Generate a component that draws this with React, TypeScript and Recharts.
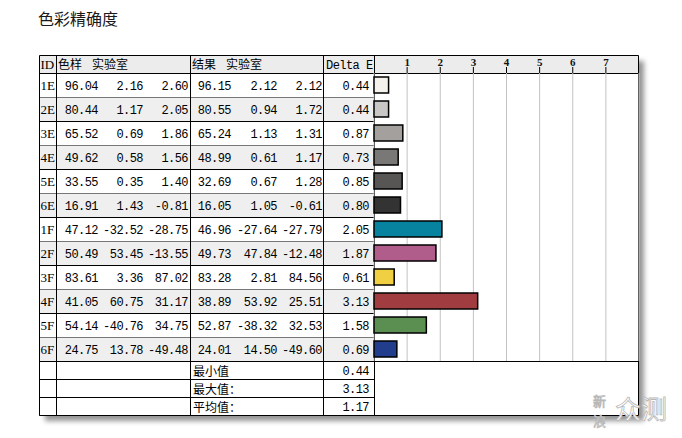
import React from 'react';
import { BarChart, Bar, XAxis, YAxis, CartesianGrid, Cell } from 'recharts';

const title = '色彩精确度';
const headers = ['ID', '色样 实验室', '结果 实验室', 'Delta E'];
const ids = ['1E', '2E', '3E', '4E', '5E', '6E', '1F', '2F', '3F', '4F', '5F', '6F'];
const sampleL = [96.04, 80.44, 65.52, 49.62, 33.55, 16.91, 47.12, 50.49, 83.61, 41.05, 54.14, 24.75];
const sampleA = [2.16, 1.17, 0.69, 0.58, 0.35, 1.43, -32.52, 53.45, 3.36, 60.75, -40.76, 13.78];
const sampleB = [2.6, 2.05, 1.86, 1.56, 1.4, -0.81, -28.75, -13.55, 87.02, 31.17, 34.75, -49.48];
const resultL = [96.15, 80.55, 65.24, 48.99, 32.69, 16.05, 46.96, 49.73, 83.28, 38.89, 52.87, 24.01];
const resultA = [2.12, 0.94, 1.13, 0.61, 0.67, 1.05, -27.64, 47.84, 2.81, 53.92, -38.32, 14.5];
const resultB = [2.12, 1.72, 1.31, 1.17, 1.28, -0.61, -27.79, -12.48, 84.56, 25.51, 32.53, -49.6];
const deltaE = [0.44, 0.44, 0.87, 0.73, 0.85, 0.8, 2.05, 1.87, 0.61, 3.13, 1.58, 0.69];
const swatchColors = ['#f5f1ec', '#c9c7c5', '#a3a09e', '#7a7876', '#575654', '#333333', '#07829f', '#b15d8c', '#f0cf42', '#a13d41', '#5a8f51', '#223d8b'];
const summaryLabels = ['最小值', '最大值：', '平均值：'];
const summaryValues = [0.44, 3.13, 1.17];
const xTicks = [1, 2, 3, 4, 5, 6, 7];
const watermark = ['新', '浪', '众测'];

const data = ids.map((id, i) => ({ id, deltaE: deltaE[i] }));

const MONO = '"Liberation Mono", "Noto Sans CJK SC", monospace';
const CJK = '"Noto Sans CJK SC", sans-serif';

// geometry
const X0 = 39.5, XID = 56.5, XS = 190.5, XR = 323.5, XD = 374.5, XE = 638.5;
const YT = 55.5, YH = 73.5, ROW = 24, SROW = 18;
const YDATA_END = YH + ROW * ids.length;
const YB = YDATA_END + SROW * summaryLabels.length;

const numStyle = { fontFamily: MONO, fontSize: 12, letterSpacing: -0.55, fill: '#000' } as const;

function SplitHeader({ text, x }: { text: string; x: number }) {
  const [a, b] = text.split(' ');
  return (
    <g fontFamily={CJK} fontSize={12} fill="#000">
      <text x={x} y={69}>{a}</text>
      <text x={x + 34} y={69}>{b}</text>
    </g>
  );
}

function TableLayer() {
  const f = (v: number) => v.toFixed(2);
  const rows = ids.map((id, i) => {
    const y0 = YH + i * ROW;
    const by = y0 + 16;
    return (
      <g key={id}>
        {i % 2 === 1 && <rect x={X0} y={y0} width={XD - X0} height={ROW} fill="#efefef" />}
        <text x={40.5} y={by} fontFamily='"Liberation Serif", serif' fontSize={13} fill="#000">{id}</text>
        <text x={98} y={by} textAnchor="end" {...numStyle}>{f(sampleL[i])}</text>
        <text x={143} y={by} textAnchor="end" {...numStyle}>{f(sampleA[i])}</text>
        <text x={188} y={by} textAnchor="end" {...numStyle}>{f(sampleB[i])}</text>
        <text x={231} y={by} textAnchor="end" {...numStyle}>{f(resultL[i])}</text>
        <text x={277} y={by} textAnchor="end" {...numStyle}>{f(resultA[i])}</text>
        <text x={322} y={by} textAnchor="end" {...numStyle}>{f(resultB[i])}</text>
        <text x={369} y={by} textAnchor="end" {...numStyle}>{f(deltaE[i])}</text>
        <line x1={X0} x2={XD} y1={y0 + ROW} y2={y0 + ROW} stroke="#000" />
      </g>
    );
  });
  const summary = summaryLabels.map((lab, j) => {
    const y0 = YDATA_END + j * SROW;
    return (
      <g key={lab}>
        <text x={193} y={y0 + 14} fontFamily={CJK} fontSize={12} fill="#000">{lab}</text>
        <text x={369} y={y0 + 13.5} textAnchor="end" {...numStyle}>{f(summaryValues[j])}</text>
        <line x1={X0} x2={XD} y1={y0 + SROW} y2={y0 + SROW} stroke="#000" />
      </g>
    );
  });
  return (
    <svg width={682} height={438} style={{ position: 'absolute', left: 0, top: 0 }}>
      <text x={38} y={25} fontFamily={CJK} fontSize={16} fill="#1a1a1a">{title}</text>
      <rect x={X0} y={YT} width={XE - X0} height={YH - YT} fill="#ececec" />
      {rows}
      {summary}
      <text x={40.5} y={69} fontFamily='"Liberation Serif", serif' fontSize={13} fill="#000">{headers[0]}</text>
      <SplitHeader text={headers[1]} x={58} />
      <SplitHeader text={headers[2]} x={192} />
      <text x={326} y={69} {...numStyle}>{headers[3]}</text>
      <line x1={X0} x2={XE} y1={YT} y2={YT} stroke="#000" />
      <line x1={X0} x2={XE} y1={YH} y2={YH} stroke="#000" />
      <line x1={X0} x2={XE} y1={YDATA_END} y2={YDATA_END} stroke="#000" />
      <line x1={X0} x2={XE} y1={YB} y2={YB} stroke="#000" />
      {[X0, XID, XS, XR, XD, XE].map((x) => (
        <line key={x} x1={x} x2={x} y1={YT} y2={YB} stroke="#000" />
      ))}
      <g fill="#ffffff" stroke="#b8b8b8" strokeWidth={0.8} fontFamily={CJK}>
        <text x={593} y={406} fontSize={13}>{watermark[0]}</text>
        <text x={593} y={426} fontSize={13}>{watermark[1]}</text>
        <text x={615} y={419} fontSize={26}>{watermark[2]}</text>
      </g>
    </svg>
  );
}

export default function App() {
  return (
    <div style={{ position: 'absolute', left: 0, top: 0, width: 682, height: 438, background: '#fff', overflow: 'hidden' }}>
      <div
        style={{
          position: 'absolute',
          left: 40,
          top: 56,
          width: 599,
          height: 360,
          background: '#fff',
          boxShadow: '5px 5px 5px rgba(0,0,0,0.42)',
        }}
      />
      <TableLayer />
      <div style={{ position: 'absolute', left: 0, top: 0 }}>
        <BarChart
          width={682}
          height={438}
          data={data}
          layout="vertical"
          margin={{ top: 55, right: 43, bottom: 77, left: 374 }}
          barSize={16}
        >
          <CartesianGrid horizontal={false} stroke="#c2c2c2" />
          <XAxis
            type="number"
            orientation="top"
            domain={[0, 8]}
            ticks={xTicks}
            height={18}
            axisLine={false}
            tickLine={{ stroke: '#000' }}
            tickSize={6}
            tickMargin={1}
            tick={{ fill: '#111', fontSize: 11, fontFamily: '"Liberation Serif", serif', fontWeight: 'bold' }}
            interval={0}
          />
          <YAxis type="category" dataKey="id" hide />
          <Bar dataKey="deltaE" stroke="#000" strokeWidth={1.5} isAnimationActive={false}>
            {data.map((d, i) => (
              <Cell key={d.id} fill={swatchColors[i]} />
            ))}
          </Bar>
        </BarChart>
      </div>
    </div>
  );
}
